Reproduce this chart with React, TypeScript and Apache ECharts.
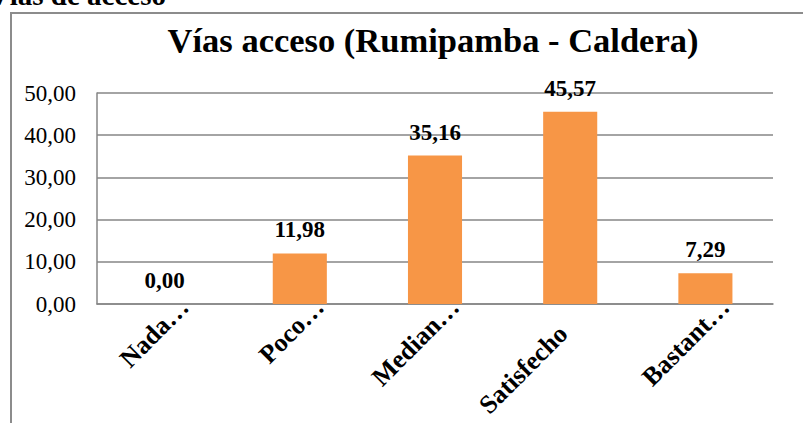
import React, { useEffect, useRef } from "react";
import * as echarts from "echarts";

const categories = ["Nada…", "Poco…", "Median…", "Satisfecho", "Bastant…"];
const values = [0.0, 11.98, 35.16, 45.57, 7.29];
const titleText = "Vías acceso (Rumipamba - Caldera)";
const captionText = "Vías de acceso";

const fmt = (v: number) => v.toFixed(2).replace(".", ",");

export default function App() {
  const ref = useRef<HTMLDivElement>(null);
  useEffect(() => {
    if (!ref.current) return;
    const chart = echarts.init(ref.current, null, { renderer: "svg" });
    const serif = "Liberation Serif";
    chart.setOption({
      animation: false,
      backgroundColor: "#ffffff",
      title: {
        text: titleText,
        left: 428,
        top: 17,
        textAlign: "center",
        textStyle: { fontFamily: serif, fontWeight: "bold", fontSize: 34.5, color: "#000" },
      },
      graphic: [
        {
          type: "rect",
          shape: { x: 11, y: 13, width: 800, height: 420 },
          style: { fill: "none", stroke: "#8c8c8c", lineWidth: 2 },
          silent: true,
        },
        {
          type: "text",
          x: 166,
          y: 9,
          style: {
            text: captionText,
            fontFamily: serif,
            fontSize: 29,
            fontWeight: "bold",
            fill: "#000",
            align: "right",
            verticalAlign: "bottom",
          },
        },
      ],
      grid: {
        left: 97,
        top: 93,
        width: 676,
        height: 211,
        containLabel: false,
        outerBoundsMode: "none",
      },
      xAxis: {
        type: "category",
        data: categories,
        axisLine: { lineStyle: { color: "#868686", width: 1.5 } },
        axisTick: { show: false },
        axisLabel: {
          interval: 0,
          rotate: 45,
          margin: -21,
          lineHeight: 56,
          formatter: (v: string) => (v.endsWith("…") ? " \n" + v : " \n" + v + "{gap|}"),
          rich: { gap: { width: 38 } },
          fontFamily: serif,
          fontWeight: "bold",
          fontSize: 26,
          color: "#000",
        },
      },
      yAxis: {
        type: "value",
        min: 0,
        max: 50,
        interval: 10,
        axisLine: { show: true, lineStyle: { color: "#868686", width: 1.5 } },
        axisTick: { show: false },
        splitLine: { lineStyle: { color: "#868686", width: 1.5 } },
        axisLabel: {
          formatter: (v: number) => fmt(v),
          fontFamily: serif,
          fontSize: 23,
          color: "#000",
          margin: 21,
        },
      },
      series: [
        {
          type: "bar",
          data: values,
          barWidth: "40%",
          itemStyle: { color: "#F79646" },
          label: {
            show: true,
            position: "top",
            distance: 12,
            formatter: (p: any) => fmt(p.value),
            fontFamily: serif,
            fontWeight: "bold",
            fontSize: 23,
            color: "#000",
          },
        },
      ],
    });
    return () => chart.dispose();
  }, []);
  return (
    <div
      ref={ref}
      style={{ position: "fixed", left: 0, top: 0, width: 803, height: 423 }}
    />
  );
}
